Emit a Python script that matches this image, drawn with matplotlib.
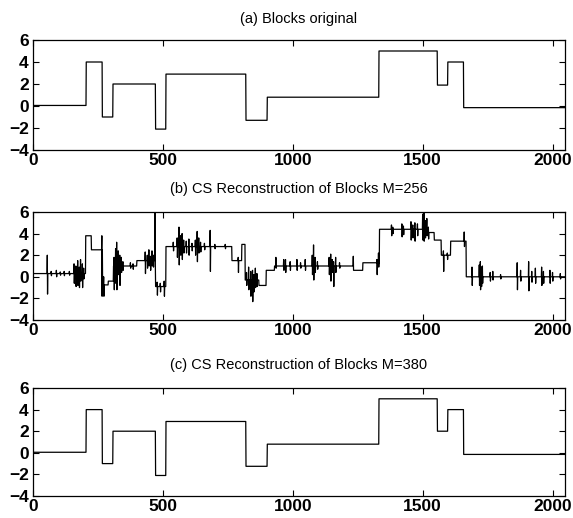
import matplotlib
matplotlib.use('Agg')
import matplotlib.pyplot as plt
import numpy as np

plt.rcParams['font.family'] = ['Liberation Sans', 'DejaVu Sans']

N = 2048

# (a) original blocks: step edges and levels
edges_a = [0, 205, 267, 308, 472, 512, 820, 902, 1332, 1557, 1597, 1658, 2048]
levels_a = [0.05, 4.0, -1.0, 2.0, -2.1, 2.9, -1.3, 0.8, 5.0, 1.9, 4.0, -0.15]

# (c) reconstruction M=380 (practically identical to the original)
edges_c = [0, 205, 267, 308, 472, 512, 820, 902, 1332, 1557, 1597, 1658, 2048]
levels_c = [0.05, 4.0, -1.0, 2.0, -2.1, 2.9, -1.25, 0.8, 5.0, 2.0, 4.0, -0.15]

# (b) reconstruction M=256: base steps ...
edges_b = [0, 203, 225, 268, 290, 310, 350, 400, 470, 512, 766, 804, 817,
           870, 898, 930, 1235, 1270, 1334, 1520, 1545, 1572, 1608, 1668, 2048]
levels_b = [0.3, 3.8, 2.5, -0.75, -0.4, 1.0, 1.0, 1.5, -0.9, 2.8, 1.5, 3.0,
            -0.3, -0.8, 0.6, 1.0, 0.6, 1.3, 4.4, 4.1, 3.4, 2.0, 3.3, 0.0]
# ... plus spikes (position, high, low)
spikes_b = [
    (55, 2.0, -1.6), (70, 0.5, 0.1), (90, 0.6, 0.0), (105, 0.45, 0.15),
    (120, 0.5, 0.1), (140, 0.5, 0.15),
    (158, 1.2, -0.6), (165, 1.0, -0.9), (172, 1.5, -0.8), (178, 0.9, -1.0),
    (183, 1.6, -0.4), (190, 1.2, -1.0), (195, 0.8, -0.2),
    (265, 3.8, -1.8), (272, 0.0, -1.8),
    (312, 1.8, -1.2), (318, 2.6, -0.6), (322, 3.2, -1.2), (328, 2.4, 0.2),
    (334, 2.0, -0.8), (340, 1.8, 0.4), (346, 1.4, 0.6),
    (375, 1.3, 0.8), (385, 1.2, 0.7),
    (432, 2.3, 0.3), (440, 2.0, 0.8), (446, 2.5, 1.0), (452, 1.9, 0.6),
    (458, 2.4, 1.0), (463, 2.0, 0.9), (470, 6.0, 1.0),
    (478, -0.5, -1.7), (490, -0.6, -1.4), (505, -0.4, -1.8),
    (540, 3.2, 2.4), (555, 3.6, 1.8), (562, 4.6, 1.1), (568, 3.8, 2.0),
    (574, 4.0, 1.6), (580, 3.4, 2.2), (590, 3.3, 2.2), (600, 3.5, 2.0),
    (612, 3.1, 2.4), (625, 3.4, 2.0), (632, 4.2, 1.4), (638, 3.6, 2.2),
    (645, 3.2, 2.3), (660, 3.1, 2.5), (682, 4.3, 0.5), (700, 3.0, 2.6),
    (740, 3.0, 2.6), (790, 1.8, 0.4),
    (822, 0.4, -0.8), (830, 0.9, -1.2), (838, 0.5, -1.8), (845, 0.6, -2.3),
    (850, 0.2, -1.4), (856, 0.8, -1.0), (862, 0.3, -0.9),
    (935, 1.8, 0.8), (965, 1.6, 0.6), (972, 1.6, 0.4), (990, 1.4, 0.6),
    (1016, 1.6, 0.6), (1030, 1.3, 0.8), (1048, 1.6, 0.6),
    (1075, 2.0, 0.2), (1080, 2.95, -0.3), (1086, 1.8, 0.4), (1095, 1.4, 0.7),
    (1140, 1.8, 0.2), (1146, 2.1, -0.4), (1152, 1.6, 0.4), (1157, 1.4, -0.9),
    (1165, 1.8, 0.4), (1180, 1.3, 0.8), (1233, 1.9, 0.6),
    (1324, 1.6, 0.2), (1330, 2.2, 0.9),
    (1380, 4.8, 3.8), (1385, 4.6, 4.0), (1420, 4.9, 3.7), (1426, 4.7, 3.9),
    (1455, 5.1, 3.4), (1462, 4.8, 3.6), (1470, 5.0, 3.3), (1480, 4.9, 3.8),
    (1500, 5.8, 3.4), (1505, 6.0, 3.3), (1510, 5.2, 3.6), (1516, 5.4, 3.8),
    (1522, 4.6, 3.5), (1580, 2.4, 0.5), (1595, 2.2, 1.6), (1660, 4.15, 2.8),
    (1690, 0.9, -0.8), (1718, 1.1, -0.8), (1722, 1.4, -1.2), (1726, 0.9, -0.9),
    (1730, 1.0, -0.6), (1760, 0.4, -0.4), (1770, 0.5, -0.3), (1800, 0.2, -0.2),
    (1864, 1.3, -1.2), (1877, 0.6, -0.4), (1908, 1.4, -1.3), (1920, 0.5, -0.5),
    (1934, 0.8, -0.6), (1958, 0.9, -0.8), (1965, 0.5, -0.6),
    (1990, 0.6, -0.6), (2000, 0.4, -0.4), (2030, 0.3, -0.2),
]

titles = ['(a) Blocks original',
          '(b) CS Reconstruction of Blocks M=256',
          '(c) CS Reconstruction of Blocks M=380']


def steps(edges, levels):
    y = np.zeros(N)
    for a, b, v in zip(edges[:-1], edges[1:], levels):
        y[a:b] = v
    return y


x = np.arange(N)
ya = steps(edges_a, levels_a)
yc = steps(edges_c, levels_c)
yb = steps(edges_b, levels_b)
for pos, hi, lo in spikes_b:
    yb[pos] = hi
    yb[pos + 1] = lo

fig = plt.figure(figsize=(5.73, 5.18), dpi=100)
W = 518.0
boxes = [(40, 150), (212, 320), (388, 496)]
for i, (y, t) in enumerate(zip([ya, yb, yc], titles)):
    top, bot = boxes[i]
    ax = fig.add_axes([33 / 573, 1 - bot / W, (565 - 33) / 573, (bot - top) / W])
    ax.plot(x, y, color='black', lw=0.9)
    ax.set_xlim(0, N)
    ax.set_ylim(-4, 6)
    ax.set_xticks([0, 500, 1000, 1500, 2000])
    ax.set_yticks([-4, -2, 0, 2, 4, 6])
    ax.tick_params(direction='in', length=4, width=0.8, top=True, right=True,
                   labelsize=12.5, pad=3)
    ax.tick_params(axis='x', pad=2.5)
    for lab in ax.get_xticklabels() + ax.get_yticklabels():
        lab.set_fontweight('bold')
    for s in ax.spines.values():
        s.set_linewidth(0.9)
    ax.set_title(t, fontsize=10.5, pad=12 if i == 0 else 14)

fig.savefig('out.png', dpi=100)
